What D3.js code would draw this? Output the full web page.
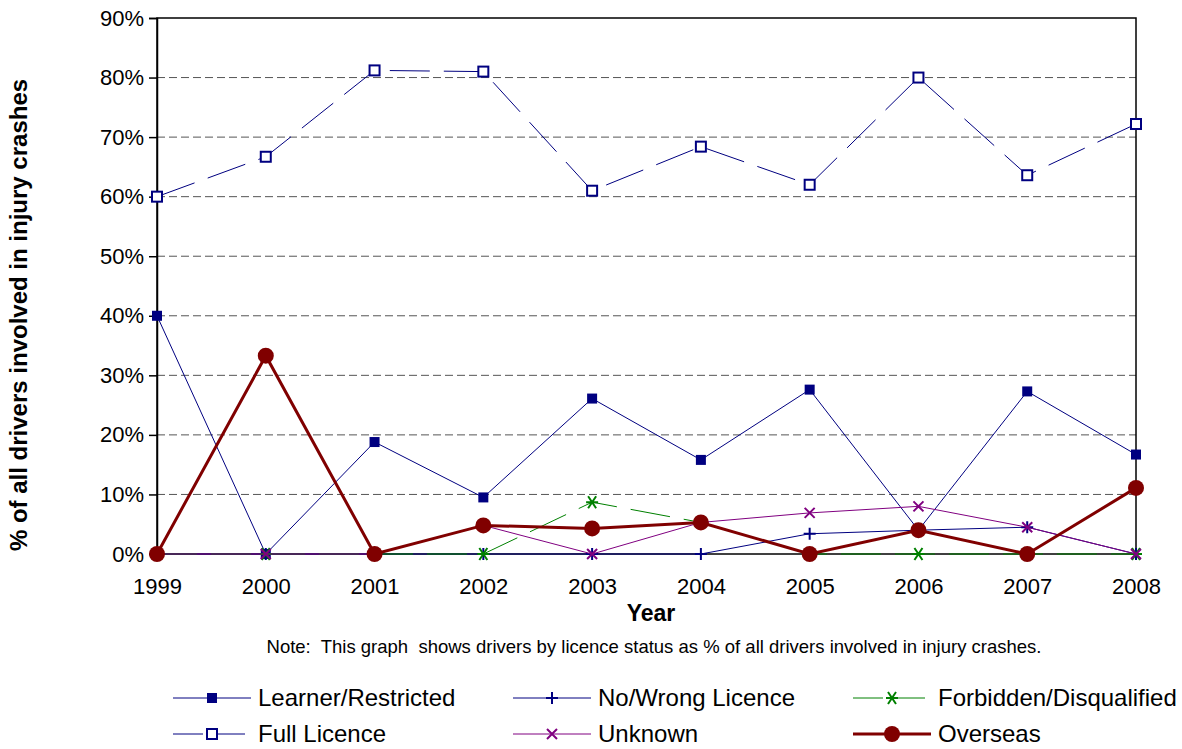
<!DOCTYPE html>
<meta charset="utf-8">
<head>
<style type='text/css'>
  body {
    margin: 0;
    background: #fff;
    font-family: 'Liberation Sans', Arial, sans-serif;
  }
  .grid line {
    stroke: #555;
    stroke-dasharray: 8,4;
  }
  .axis text {
    font-size: 22px;
    fill: #000;
  }
</style>
</head>
<body>
<svg id="chart" width="1182" height="749"></svg>
<script src="https://cdnjs.cloudflare.com/ajax/libs/d3/7.8.5/d3.min.js"></script>
<script>
// chart data
var years = [1999, 2000, 2001, 2002, 2003, 2004, 2005, 2006, 2007, 2008];
var learner = [40, 0, 18.8, 9.5, 26.1, 15.8, 27.6, 4, 27.3, 16.7];
var fullLicence = [60, 66.7, 81.2, 81, 61, 68.4, 62, 80, 63.6, 72.2];
var noWrong = [0, 0, 0, 0, 0, 0, 3.4, 4, 4.5, 0];
var forbidden = [0, 0, 0, 0, 8.7, 5.3, 0, 0, 0, 0];
var unknown = [0, 0, 0, 4.8, 0, 5.3, 6.9, 8, 4.5, 0];
var overseas = [0, 33.3, 0, 4.8, 4.3, 5.3, 0, 4, 0, 11.1];
var yTicks = [0, 10, 20, 30, 40, 50, 60, 70, 80, 90];

// series in drawing order
var series = [
  {name: "Learner/Restricted", values: learner, color: "#000080", width: 1, dash: null, marker: "fsquare"},
  {name: "Full Licence", values: fullLicence, color: "#000080", width: 1, dash: "40,14", marker: "hsquare"},
  {name: "No/Wrong Licence", values: noWrong, color: "#000080", width: 1, dash: null, marker: "plus"},
  {name: "Forbidden/Disqualified", values: forbidden, color: "#008000", width: 1, dash: "40,14", marker: "star"},
  {name: "Unknown", values: unknown, color: "#800080", width: 1, dash: null, marker: "cross"},
  {name: "Overseas", values: overseas, color: "#800000", width: 3, dash: null, marker: "circle"}
];
// legend layout order (row-wise)
var legendOrder = [0, 2, 3, 1, 4, 5];

var svg = d3.select("#chart"),
    margin = {top: 18, right: 46, bottom: 195, left: 157},
    width = 1182 - margin.left - margin.right,
    height = 749 - margin.top - margin.bottom;

var x = d3.scalePoint().domain(years).range([0, width]);
var y = d3.scaleLinear().domain([0, 90]).range([height, 0]);

var g = svg.append("g").attr("transform", "translate(" + margin.left + "," + margin.top + ")");

// gridlines
g.append("g").attr("class", "grid")
  .selectAll("line")
  .data(yTicks.filter(function(d) { return d > 0 && d < 90; }))
  .enter().append("line")
    .attr("x1", 0).attr("x2", width)
    .attr("y1", function(d) { return y(d); })
    .attr("y2", function(d) { return y(d); });

// plot frame
g.append("rect")
  .attr("width", width).attr("height", height)
  .attr("fill", "none").attr("stroke", "#000").attr("stroke-width", 1.5);

// y axis
var yAxis = g.append("g").attr("class", "axis")
  .call(d3.axisLeft(y).tickValues(yTicks).tickSize(8).tickPadding(5)
    .tickFormat(function(d) { return d + "%"; }));
yAxis.select(".domain").attr("stroke", "#000").attr("stroke-width", 1.5);
yAxis.selectAll(".tick line").attr("stroke", "#000").attr("stroke-width", 1.5);

// x axis
var xAxis = g.append("g").attr("class", "axis")
  .attr("transform", "translate(0," + height + ")")
  .call(d3.axisBottom(x).tickSize(0).tickPadding(24));
xAxis.select(".domain").remove();

// marker drawing
function drawMarker(sel, type, color) {
  if (type === "fsquare") {
    sel.append("rect").attr("x", -5).attr("y", -5).attr("width", 10).attr("height", 10).attr("fill", color);
  } else if (type === "hsquare") {
    sel.append("rect").attr("x", -5).attr("y", -5).attr("width", 10).attr("height", 10)
      .attr("fill", "#fff").attr("stroke", color).attr("stroke-width", 2);
  } else if (type === "plus") {
    sel.append("path").attr("d", "M-6,0H6M0,-6V6").attr("stroke", color).attr("stroke-width", 2);
  } else if (type === "cross") {
    sel.append("path").attr("d", "M-5,-5L5,5M-5,5L5,-5").attr("stroke", color).attr("stroke-width", 2);
  } else if (type === "star") {
    sel.append("path").attr("d", "M-6,0H6M-4,-6L4,6M-4,6L4,-6").attr("stroke", color).attr("stroke-width", 2);
  } else if (type === "circle") {
    sel.append("circle").attr("r", 8).attr("fill", color);
  }
}

var line = d3.line()
  .x(function(d, i) { return x(years[i]); })
  .y(function(d) { return y(d); });

series.forEach(function(s) {
  g.append("path")
    .datum(s.values)
    .attr("d", line)
    .attr("fill", "none")
    .attr("stroke", s.color)
    .attr("stroke-width", s.width)
    .attr("stroke-dasharray", s.dash);

  g.append("g").selectAll("g")
    .data(s.values)
    .enter().append("g")
      .attr("transform", function(d, i) { return "translate(" + x(years[i]) + "," + y(d) + ")"; })
      .each(function() { drawMarker(d3.select(this), s.marker, s.color); });
});

// axis titles
svg.append("text")
  .attr("transform", "translate(27," + 315 + ") rotate(-90)")
  .attr("text-anchor", "middle")
  .attr("font-size", "24px")
  .attr("font-weight", "bold")
  .text("% of all drivers involved in injury crashes");

svg.append("text")
  .attr("x", 651).attr("y", 621)
  .attr("text-anchor", "middle")
  .attr("font-size", "23px")
  .attr("font-weight", "bold")
  .text("Year");

svg.append("text")
  .attr("x", 654).attr("y", 653)
  .attr("text-anchor", "middle")
  .attr("font-size", "18.5px")
  .attr("xml:space", "preserve")
  .text("Note:  This graph  shows drivers by licence status as % of all drivers involved in injury crashes.");

// legend
var colX = [173, 513, 853], rowY = [698, 734];
legendOrder.forEach(function(si, k) {
  var s = series[si];
  var lg = svg.append("g")
    .attr("transform", "translate(" + colX[k % 3] + "," + rowY[Math.floor(k / 3)] + ")");
  lg.append("line")
    .attr("x1", 0).attr("x2", 78).attr("y1", 0).attr("y2", 0)
    .attr("stroke", s.color)
    .attr("stroke-width", s.width)
    .attr("stroke-dasharray", s.dash ? "30,12" : null);
  drawMarker(lg.append("g").attr("transform", "translate(39,0)"), s.marker, s.color);
  lg.append("text")
    .attr("x", 85).attr("y", 0).attr("dy", "0.35em")
    .attr("font-size", "24px")
    .text(s.name);
});
</script>
</body>
